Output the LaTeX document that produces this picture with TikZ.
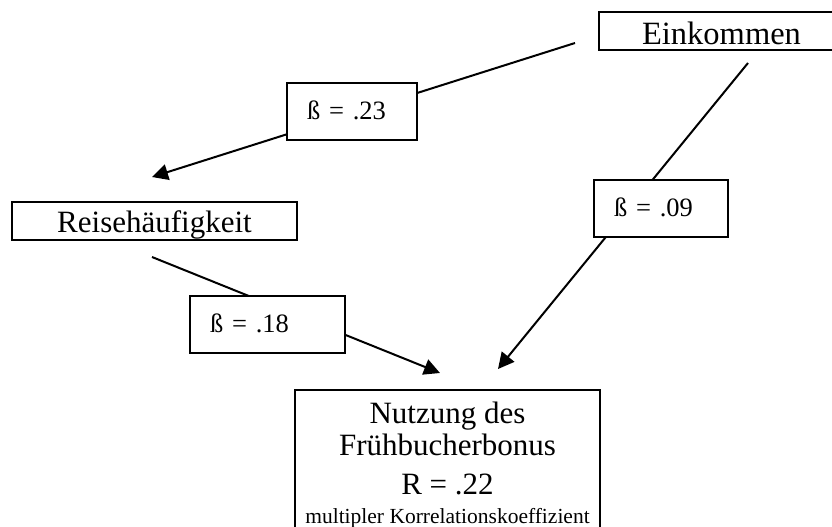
\documentclass[tikz,border=0pt]{standalone}
\usepackage{fontspec}
\setmainfont{Liberation Serif}
\usetikzlibrary{arrows.meta}
\begin{document}
\begin{tikzpicture}[x=1pt,y=-1pt,
  box/.style={draw=black,line width=2pt,fill=white,inner sep=0pt,outer sep=0pt},
  varbox/.style={box,text height=22pt,text depth=0pt},
  betabox/.style={box,minimum width=130pt,minimum height=57pt,text width=90pt,
    align=left,inner xsep=20pt,text height=15pt,text depth=0pt,
    font=\fontsize{26.5}{30}\selectfont},
  link/.style={line width=2pt,-{Triangle[length=16pt,width=16pt]}},
  bigfont/.style={font=\fontsize{31}{36}\selectfont}]
\useasboundingbox (0,0) rectangle (832,527);
\clip (0,0) rectangle (832,527);

% variables
\node[varbox,anchor=north west,minimum width=245pt,minimum height=38pt,
  text height=28pt,font=\fontsize{32.5}{36}\selectfont] (eink) at (599,12) {Einkommen};
\node[varbox,anchor=north west,minimum width=285pt,minimum height=38pt,bigfont] (reise) at (12,202) {Reisehäufigkeit};
\node[box,anchor=north west,minimum width=305pt,minimum height=150pt] (nutz) at (295,390) {};
\node[bigfont,anchor=base,inner sep=0pt] (nutzA) at (447.5,423) {Nutzung des};
\node[bigfont,anchor=base,inner sep=0pt] (nutzB) at (447.5,455) {Frühbucherbonus};
\node[bigfont,anchor=base,inner sep=0pt] (nutzC) at (447.5,494) {R = .22};
\node[font=\fontsize{21.5}{24}\selectfont,anchor=base,inner sep=0pt] (nutzD) at (447.5,523) {multipler Korrelationskoeffizient};

% connector end points
\coordinate (e1) at ([shift={(-24,12)}]eink.west);
\coordinate (e2) at ([shift={(149,13)}]eink.south west);
\coordinate (r1) at ([shift={(140,-25)}]reise.north west);
\coordinate (r2) at ([shift={(140,17)}]reise.south west);
\coordinate (n1) at ([shift={(203,-21)}]nutz.north west);
\coordinate (n2) at ([shift={(145,-17)}]nutz.north west);

% paths
\draw[link] (e1) -- (r1);
\draw[link] (e2) -- (n1);
\draw[link] (r2) -- (n2);

% path coefficients
\node[betabox,anchor=north west] (b23) at (287,83) {ß = .23};
\node[betabox,anchor=north west,minimum width=155pt,text width=115pt] (b18) at (190,296) {ß = .18};
\node[betabox,anchor=north west,minimum width=134pt,text width=94pt] (b09) at (594,180) {ß = .09};
\end{tikzpicture}
\end{document}
